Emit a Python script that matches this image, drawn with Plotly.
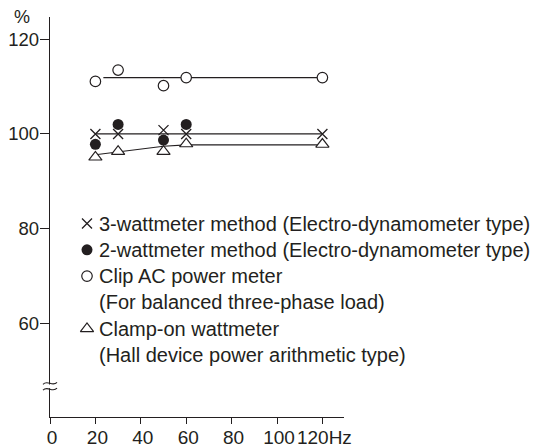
import plotly.graph_objects as go

# frequency (Hz)
freq = [20, 30, 50, 60, 120]

# ratio readings (%)
three_watt = [100.0, 100.0, 100.8, 100.0, 100.0]
two_watt = [97.8, 102.0, 98.7, 102.0]
two_watt_freq = [20, 30, 50, 60]
clip_ac = [111.1, 113.5, 110.2, 111.9, 111.9]
clamp_on = [95.1, 96.3, 96.3, 97.9, 97.8]

# drawn trend lines
three_fit_x = [20, 120]
three_fit_y = [100.0, 100.0]
clip_fit_x = [23.5, 120]
clip_fit_y = [111.9, 111.9]
clamp_fit_x = [20, 30, 50, 60, 120]
clamp_fit_y = [95.6, 96.2, 97.4, 97.7, 97.7]

x_ticks = [0, 20, 40, 60, 80, 100, 120]
x_ticktext = ["0", "20", "40", "60", "80", "100", "120Hz"]
y_ticks = [60, 80, 100, 120]

legend_names = [
    "3-wattmeter method (Electro-dynamometer type)",
    "2-wattmeter method (Electro-dynamometer type)",
    "Clip AC power meter",
    "(For balanced three-phase load)",
    "Clamp-on wattmeter",
    "(Hall device power arithmetic type)",
]

INK = "#231f20"
FONT = "Liberation Sans, Arial, sans-serif"

# page body margin (the figure div starts 8px in)
OFF = 8
# plot box in page pixels
PL, PT, PW, PH = 50, 17, 294, 400


def paper(x, y):
    return (x - PL) / PW, 1 - (y - PT) / PH


fig = go.Figure()

line_style = dict(color=INK, width=1.2)
fig.add_trace(go.Scatter(x=clip_fit_x, y=clip_fit_y, mode="lines", line=line_style, hoverinfo="skip"))
fig.add_trace(go.Scatter(x=three_fit_x, y=three_fit_y, mode="lines", line=line_style, hoverinfo="skip"))
fig.add_trace(go.Scatter(x=clamp_fit_x, y=clamp_fit_y, mode="lines", line=line_style, hoverinfo="skip"))

sym_x = dict(symbol="x-thin", size=10, line=dict(color=INK, width=1.3))
sym_dot = dict(symbol="circle", size=11, color=INK, line=dict(width=0))
sym_ring = dict(symbol="circle", size=10.5, color="white", line=dict(color=INK, width=1.2))
sym_tri = dict(symbol="triangle-up", size=11.5, color="white", line=dict(color=INK, width=1.2))

fig.add_trace(go.Scatter(x=freq, y=clip_ac, mode="markers", marker=sym_ring, cliponaxis=False))
fig.add_trace(go.Scatter(x=freq, y=three_watt, mode="markers", marker=sym_x, cliponaxis=False))
fig.add_trace(go.Scatter(x=freq, y=clamp_on, mode="markers", marker=sym_tri, cliponaxis=False))
fig.add_trace(go.Scatter(x=two_watt_freq, y=two_watt, mode="markers", marker=sym_dot, cliponaxis=False))

# legend keys on a pixel-based overlay axis
rows = [223.5 + 26.3 * i for i in range(6)]
key_rows = [rows[0], rows[1], rows[2], rows[4]]
key_syms = [sym_x, sym_dot, sym_ring, sym_tri]
for r, s in zip(key_rows, key_syms):
    fig.add_trace(go.Scatter(x=[87 - PL], y=[r - PT], mode="markers", marker=s,
                             xaxis="x2", yaxis="y2", hoverinfo="skip"))

annotations = []
for r, name in zip(rows, legend_names):
    ax, ay = paper(96.5, r)
    annotations.append(dict(text=name, x=ax, y=ay, xref="paper", yref="paper",
                            xanchor="left", yanchor="middle", showarrow=False,
                            font=dict(size=20, color=INK, family=FONT)))
px_, py_ = paper(22, 16.5)
annotations.append(dict(text="%", x=px_, y=py_, xref="paper", yref="paper",
                        xanchor="center", yanchor="middle", showarrow=False,
                        font=dict(size=18, color=INK, family=FONT)))

# axis break mark
shapes = []
x0, y0 = paper(48, 384.5)
x1, y1 = paper(52, 388.2)
shapes.append(dict(type="rect", xref="paper", yref="paper", x0=x0, x1=x1, y0=y0, y1=y1,
                   fillcolor="white", line=dict(width=0), layer="above"))
for yc in (383.3, 389.2):
    pts = [paper(43, yc + 1), paper(47.5, yc - 4), paper(52.5, yc + 4), paper(57, yc - 1)]
    path = "M {:.5f},{:.5f} C {:.5f},{:.5f} {:.5f},{:.5f} {:.5f},{:.5f}".format(
        *[v for p in pts for v in p])
    shapes.append(dict(type="path", xref="paper", yref="paper", path=path,
                       line=dict(color=INK, width=1.1), layer="above"))

fig.update_layout(
    width=539 - OFF, height=448 - OFF,
    margin=dict(l=PL - OFF, r=539 - PL - PW, t=PT - OFF, b=448 - PT - PH),
    paper_bgcolor="white", plot_bgcolor="white",
    showlegend=False,
    font=dict(family=FONT, color=INK, size=19),
    xaxis=dict(range=[0, PW / 2.27], tickvals=x_ticks, ticktext=x_ticktext,
               showline=True, linecolor=INK, linewidth=1.3, showgrid=False, zeroline=False,
               ticks="outside", ticklen=6, tickcolor=INK, tickwidth=1.1, tickangle=0,
               automargin=False, ticklabelstandoff=-3,
               tickfont=dict(size=19, color=INK, family=FONT), ticklabelshift=2),
    yaxis=dict(range=[40.19, 124.71], tickvals=y_ticks,
               showline=True, linecolor=INK, linewidth=1.3, showgrid=False, zeroline=False,
               ticks="outside", ticklen=9, tickcolor=INK, tickwidth=1.1, automargin=False,
               ticklabelstandoff=-3,
               tickfont=dict(size=18.5, color=INK, family=FONT)),
    xaxis2=dict(range=[0, PW], overlaying="x", anchor="y2", visible=False),
    yaxis2=dict(range=[PH, 0], overlaying="y", anchor="x2", visible=False),
    annotations=annotations,
    shapes=shapes,
)

fig.write_html("out.html")
